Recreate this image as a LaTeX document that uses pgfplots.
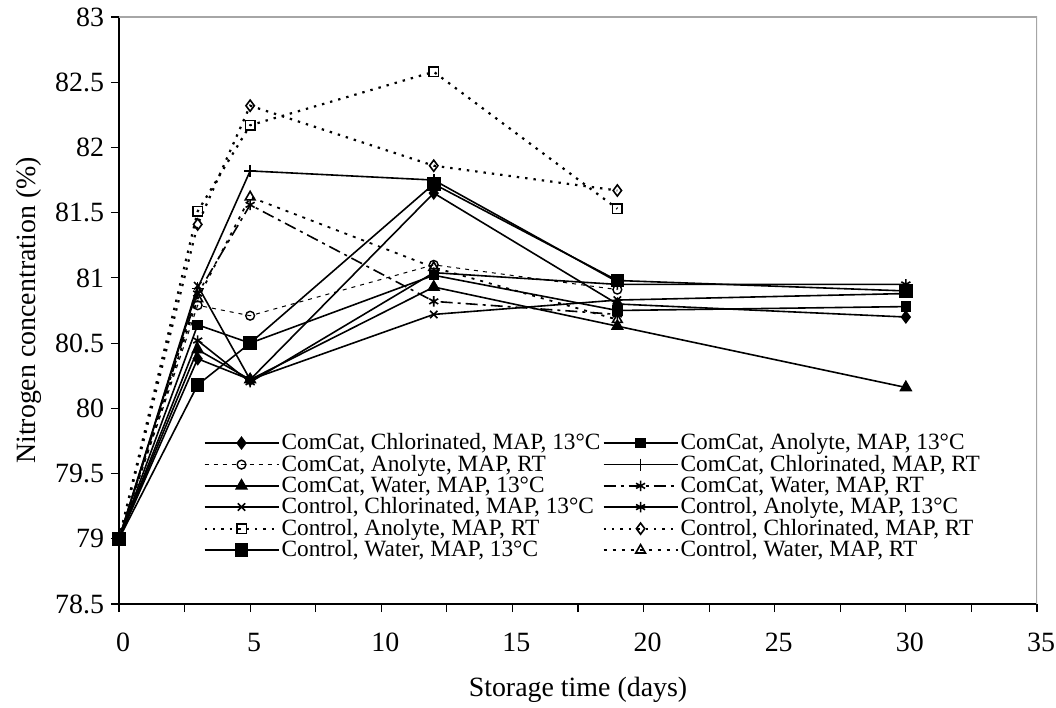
\documentclass[border=0pt]{standalone}
\usepackage{fontspec}
\setmainfont{Liberation Serif}
\usepackage{pgfplots}
\pgfplotsset{compat=1.18}
\usetikzlibrary{plotmarks}

\begin{document}
\begin{tikzpicture}
\begin{axis}[
  scale only axis, width=459bp, height=293.5bp,
  at={(0,0)}, anchor=south west,
  xmin=0, xmax=35, ymin=78.5, ymax=83,
  axis lines=left, axis line style={-, line width=0.8bp},
  xtick={0,5,...,35}, minor xtick={2.5,7.5,...,32.5},
  ytick={78.5,79,...,83},
  tick align=outside, major tick length=4bp, minor tick length=4bp,
  tick style={black, line width=0.6bp},
  /pgf/number format/assume math mode=true,
  tick label style={font=\fontsize{14}{16}\selectfont},
  xticklabel style={yshift=-7bp, xshift=2bp},
  xlabel={Storage time (days)},
  ylabel={Nitrogen concentration (\%)},
  label style={font=\fontsize{14}{16}\selectfont},
  xlabel style={yshift=-6bp},
  ylabel style={yshift=0bp},
  every axis plot/.append style={black, line width=0.8bp},
  legend columns=2,
  legend cell align=left,
  legend style={at={(0.085,0.30)}, anchor=north west, draw=none, fill=none,
    font=\fontsize{11.7}{12}\selectfont,
    nodes={inner ysep=0.6bp, inner xsep=1bp},
    /tikz/every even column/.append style={column sep=0pt}},
  legend image code/.code={\draw[mark repeat=2,mark phase=2,#1]
    plot coordinates {(0bp,0bp)(18.5bp,0bp)(37bp,0bp)};},
]
% ComCat, Chlorinated, MAP, 13C
\addplot[mark=diamond*, mark size=2.8bp, mark options={solid}] coordinates {(0,79)(3,80.38)(5,80.22)(12,81.65)(19,80.80)(30,80.70)};
\addlegendentry{ComCat, Chlorinated, MAP, 13°C}
% ComCat, Anolyte, MAP, 13C
\addplot[mark=square*, mark size=2.2bp, mark options={solid}] coordinates {(0,79)(3,80.64)(5,80.50)(12,81.02)(19,80.75)(30,80.78)};
\addlegendentry{ComCat, Anolyte, MAP, 13°C}
% ComCat, Anolyte, MAP, RT
\addplot[line width=0.5bp, dash pattern=on 2bp off 2.5bp, mark=o, mark size=2.2bp, mark options={solid, line width=0.7bp}] coordinates {(0,79)(3,80.79)(5,80.71)(12,81.10)(19,80.91)};
\addlegendentry{ComCat, Anolyte, MAP, RT}
% ComCat, Chlorinated, MAP, RT
\addplot[mark=+, mark size=3bp, mark options={solid}] coordinates {(0,79)(3,80.92)(5,81.82)(12,81.75)(19,80.97)};
\addlegendentry{ComCat, Chlorinated, MAP, RT}
% ComCat, Water, MAP, 13C
\addplot[mark=triangle*, mark size=3bp, mark options={solid}] coordinates {(0,79)(3,80.45)(5,80.22)(12,80.93)(19,80.63)(30,80.16)};
\addlegendentry{ComCat, Water, MAP, 13°C}
% ComCat, Water, MAP, RT
\addplot[dash pattern=on 6bp off 2.5bp on 1.5bp off 2.5bp, mark=asterisk, mark size=2.6bp, mark options={solid}] coordinates {(0,79)(3,80.88)(5,81.56)(12,80.82)(19,80.72)};
\addlegendentry{ComCat, Water, MAP, RT}
% Control, Chlorinated, MAP, 13C
\addplot[mark=x, mark size=2.6bp, mark options={solid}] coordinates {(0,79)(3,80.94)(5,80.22)(12,80.72)(19,80.83)(30,80.88)};
\addlegendentry{Control, Chlorinated, MAP, 13°C}
% Control, Anolyte, MAP, 13C
\addplot[mark=asterisk, mark size=2.6bp, mark options={solid}] coordinates {(0,79)(3,80.52)(5,80.20)(12,81.04)(19,80.95)(30,80.95)};
\addlegendentry{Control, Anolyte, MAP, 13°C}
% Control, Anolyte, MAP, RT
\addplot[line width=1.1bp, dash pattern=on 1.2bp off 3bp, mark=square, mark size=2.4bp, mark options={solid, line width=0.8bp}] coordinates {(0,79)(3,81.51)(5,82.17)(12,82.58)(19,81.53)};
\addlegendentry{Control, Anolyte, MAP, RT}
% Control, Chlorinated, MAP, RT
\addplot[line width=1.1bp, dash pattern=on 1.2bp off 3bp, mark=diamond, mark size=2.8bp, mark options={solid, line width=0.8bp}] coordinates {(0,79)(3,81.41)(5,82.32)(12,81.86)(19,81.67)};
\addlegendentry{Control, Chlorinated, MAP, RT}
% Control, Water, MAP, 13C
\addplot[mark=square*, mark size=3bp, mark options={solid}] coordinates {(0,79)(3,80.18)(5,80.50)(12,81.72)(19,80.98)(30,80.90)};
\addlegendentry{Control, Water, MAP, 13°C}
% Control, Water, MAP, RT
\addplot[line width=0.9bp, dash pattern=on 1.5bp off 3bp, mark=triangle, mark size=2.8bp, mark options={solid, line width=0.8bp}] coordinates {(0,79)(3,80.84)(5,81.62)(12,81.08)(19,80.68)};
\addlegendentry{Control, Water, MAP, RT}
\draw[gray!70, line width=0.8bp] (rel axis cs:0,1) -- (rel axis cs:1,1) -- (rel axis cs:1,0);
\end{axis}
\pgfresetboundingbox
\path[use as bounding box] (-59.5bp,-52bp) rectangle (468.5bp,302bp);
\end{tikzpicture}
\end{document}
